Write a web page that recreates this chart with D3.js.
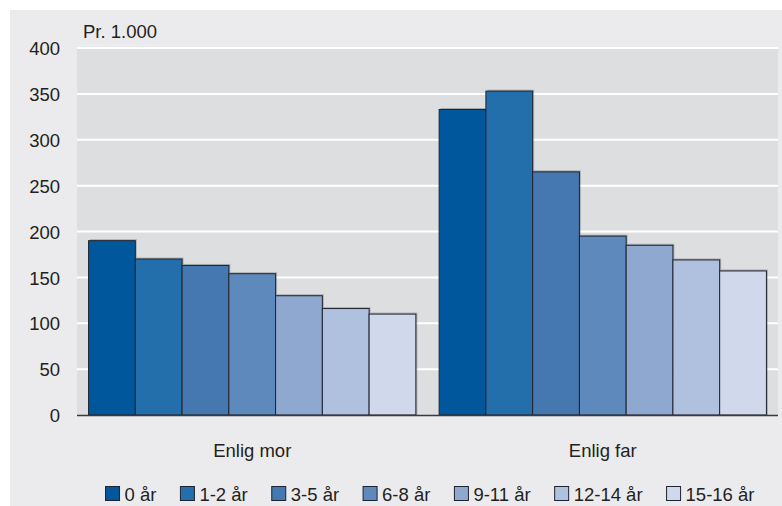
<!DOCTYPE html>
<html>
<head>
<meta charset="utf-8">
<script src="https://cdn.jsdelivr.net/npm/d3@7"></script>
<style>
  html, body { margin: 0; padding: 0; background: #ffffff; }
  svg { display: block; }
  text { font-family: "Liberation Sans", Arial, sans-serif; font-size: 18.5px; fill: #231f20; }
</style>
</head>
<body>
<svg id="chart" width="782" height="506"></svg>
<script>
const categories = ["Enlig mor", "Enlig far"];
const seriesNames = ["0 år", "1-2 år", "3-5 år", "6-8 år", "9-11 år", "12-14 år", "15-16 år"];
const enligMor = [190, 170, 163, 154, 130, 116, 110];
const enligFar = [333, 353, 265, 195, 185, 169, 157];
const seriesColors = ["#00579b", "#226fab", "#4578b1", "#5d89bd", "#8ea8d0", "#b0c1df", "#d0d8eb"];
const yTicks = [0, 50, 100, 150, 200, 250, 300, 350, 400];
const unitLabel = "Pr. 1.000";

const valuesByCategory = [enligMor, enligFar];
const data = categories.map((c, i) => ({
  category: c,
  values: seriesNames.map((s, j) => ({ series: s, value: valuesByCategory[i][j], color: seriesColors[j] }))
}));

const svg = d3.select("#chart");
const W = 782, H = 506;
const plot = { left: 77, right: 778, top: 48, bottom: 415 };

// outer background
svg.append("rect").attr("x", 10).attr("y", 10).attr("width", W - 10).attr("height", H - 10).attr("fill", "#ebebed");
// plot background
svg.append("rect").attr("x", plot.left).attr("y", plot.top).attr("width", plot.right - plot.left)
  .attr("height", plot.bottom - plot.top).attr("fill", "#dddee0");

const y = d3.scaleLinear().domain([0, 400]).range([plot.bottom, plot.top]);
const x0 = d3.scaleBand().domain(categories).range([plot.left, plot.right]).paddingInner(0.0664).paddingOuter(0.033);
const x1 = d3.scaleBand().domain(seriesNames).range([0, x0.bandwidth()]).padding(0);

// gridlines
svg.append("g").selectAll("line").data(yTicks.filter(t => t > 0)).join("line")
  .attr("x1", plot.left).attr("x2", plot.right)
  .attr("y1", d => y(d)).attr("y2", d => y(d))
  .attr("stroke", "#ffffff").attr("stroke-width", 2);

// y axis labels
const yAxis = d3.axisLeft(y).tickValues(yTicks).tickSize(0).tickPadding(17).tickFormat(d3.format("d"));
const gy = svg.append("g").attr("transform", `translate(${plot.left},0)`).call(yAxis);
gy.select(".domain").remove();
gy.selectAll("text").attr("fill", "#231f20").style("font-size", "18.5px")
  .style("font-family", '"Liberation Sans", Arial, sans-serif').attr("dy", "0.36em");

// unit label
svg.append("text").attr("x", 83).attr("y", 38).text(unitLabel);

// bars
const groups = svg.append("g").selectAll("g").data(data).join("g")
  .attr("transform", d => `translate(${x0(d.category)},0)`);

groups.each(function(d) {
  const g = d3.select(this);
  d.values.forEach(v => {
    g.append("rect")
      .attr("x", x1(v.series) + 1.5).attr("y", y(v.value) - 1.5)
      .attr("width", x1.bandwidth()).attr("height", y(0) - y(v.value) + 1.5)
      .attr("fill", "#000").attr("opacity", 0.22);
    g.append("rect")
      .attr("x", x1(v.series)).attr("y", y(v.value))
      .attr("width", x1.bandwidth()).attr("height", y(0) - y(v.value))
      .attr("fill", v.color).attr("stroke", "#1f2330").attr("stroke-width", 1);
  });
});

// zero baseline
svg.append("line").attr("x1", plot.left).attr("x2", plot.right)
  .attr("y1", y(0) + 0.5).attr("y2", y(0) + 0.5).attr("stroke", "#3a3a3a").attr("stroke-width", 1.5);

// category labels
const xAxis = d3.axisBottom(x0).tickSize(0).tickPadding(42);
const gx = svg.append("g").attr("transform", `translate(0,${plot.bottom})`).call(xAxis);
gx.select(".domain").remove();
gx.selectAll("text").attr("fill", "#231f20").style("font-size", "18.5px")
  .style("font-family", '"Liberation Sans", Arial, sans-serif').attr("dy", "0");

// legend
const legend = svg.append("g");
const sq = 14, gapText = 5, gapItem = 24;
const items = legend.selectAll("g").data(seriesNames).join("g");
items.append("rect").attr("width", sq).attr("height", sq).attr("y", -sq / 2 - 0.5)
  .attr("fill", (d, i) => seriesColors[i]).attr("stroke", "#1f2330").attr("stroke-width", 1);
items.append("text").attr("x", sq + gapText).attr("y", 0).attr("dy", "0.36em").text(d => d);
const widths = [];
items.each(function() {
  const w = sq + gapText + d3.select(this).select("text").node().getComputedTextLength();
  widths.push(w);
});
const total = d3.sum(widths) + gapItem * (widths.length - 1);
const startX = 430 - total / 2;
items.attr("transform", (d, i) => {
  const pos = startX + d3.sum(widths.slice(0, i)) + gapItem * i;
  return `translate(${pos},494)`;
});
</script>
</body>
</html>
